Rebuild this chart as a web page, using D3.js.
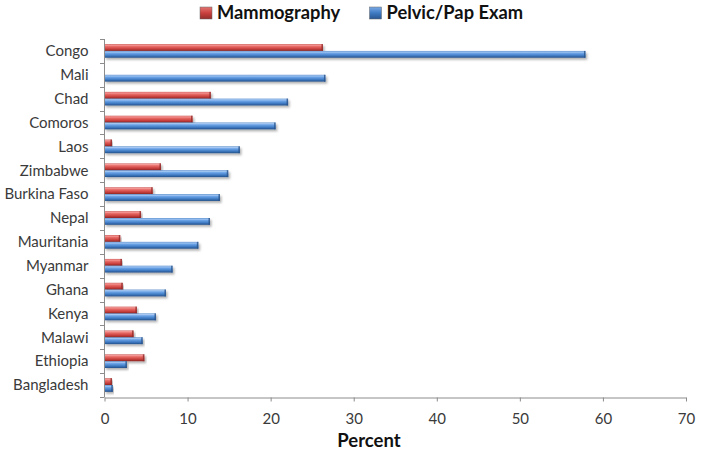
<!DOCTYPE html>
<html><head><meta charset="utf-8">
<script src="https://cdn.jsdelivr.net/npm/d3@7"></script>
<style>
body{margin:0;background:#fff;}
text{font-family:Lato,"Open Sans",sans-serif;}
</style></head>
<body><svg id="c" width="702" height="453"></svg>
<script>
const categories = ["Congo","Mali","Chad","Comoros","Laos","Zimbabwe","Burkina Faso","Nepal","Mauritania","Myanmar","Ghana","Kenya","Malawi","Ethiopia","Bangladesh"];
const seriesNames = ["Mammography","Pelvic/Pap Exam"];
const mammography = [26.3,0,12.8,10.6,0.9,6.8,5.8,4.4,1.9,2.1,2.2,3.9,3.5,4.8,0.9];
const pelvicPap   = [57.9,26.6,22.1,20.6,16.3,14.9,13.9,12.7,11.3,8.2,7.4,6.2,4.6,2.7,1.0];
const xTicks = [0,10,20,30,40,50,60,70];
const axisTitle = "Percent";

const svg = d3.select("#c");
const defs = svg.append("defs");
function grad(id, stops){
  const g = defs.append("linearGradient").attr("id",id).attr("x1",0).attr("y1",0).attr("x2",0).attr("y2",1);
  stops.forEach(s=>g.append("stop").attr("offset",s[0]).attr("stop-color",s[1]));
}
grad("gRed",[[0,"#c9504d"],[0.15,"#f59a97"],[0.35,"#e66a66"],[0.7,"#c9403d"],[1,"#8a2523"]]);
grad("gBlue",[[0,"#4d84c8"],[0.15,"#a6c8f2"],[0.35,"#6aa2e6"],[0.7,"#3f7ac2"],[1,"#24508a"]]);
grad("lRed",[[0,"#e37673"],[0.5,"#c9403d"],[1,"#922d2a"]]);
grad("lBlue",[[0,"#7aaae6"],[0.5,"#3f7ac2"],[1,"#2a5690"]]);
const f = defs.append("filter").attr("id","sh").attr("x","-5%").attr("y","-50%").attr("width","110%").attr("height","250%");
f.append("feDropShadow").attr("dx",1.5).attr("dy",2).attr("stdDeviation",1.3).attr("flood-color","#000").attr("flood-opacity",0.3);

const x = d3.scaleLinear().domain([0,70]).range([104.5,686]);
const y = d3.scaleBand().domain(categories).range([39,397]).padding(0);
const inner = d3.scaleBand().domain(seriesNames).range([y.bandwidth()/2-6.8, y.bandwidth()/2+6.8]);
const fills = {"Mammography":"url(#gRed)","Pelvic/Pap Exam":"url(#gBlue)"};
const caps = {"Mammography":"#8e2a28","Pelvic/Pap Exam":"#2a5288"};
const legendFill = {"Mammography":"url(#lRed)","Pelvic/Pap Exam":"url(#lBlue)"};

const rows = categories.map((c,i)=>({c, vals:[{s:seriesNames[0],v:mammography[i]},{s:seriesNames[1],v:pelvicPap[i]}]}));

// bars
const g = svg.append("g");
rows.forEach(r=>{
  r.vals.forEach(d=>{
    if(d.v<=0) return;
    const y0 = y(r.c)+inner(d.s), h = inner.bandwidth(), w = x(d.v)-x(0);
    const bg = g.append("g").attr("filter","url(#sh)");
    bg.append("rect").attr("x",x(0)).attr("y",y0).attr("width",w).attr("height",h).attr("fill",fills[d.s]);
    bg.append("rect").attr("x",x(d.v)-1.5).attr("y",y0).attr("width",1.5).attr("height",h).attr("fill",caps[d.s]).attr("opacity",0.8);
  });
});

// y axis
const axisColor = "#8c8c8c";
const textColor = "#3a3a3a";
svg.append("line").attr("x1",104.5).attr("x2",104.5).attr("y1",39).attr("y2",397).attr("stroke",axisColor);
const bounds = categories.map(c=>y(c)).concat([397]);
svg.selectAll(".yt").data(bounds).enter().append("line")
  .attr("x1",100).attr("x2",104.5).attr("y1",d=>Math.round(d)+0.5).attr("y2",d=>Math.round(d)+0.5).attr("stroke",axisColor);
svg.selectAll(".yl").data(categories).enter().append("text")
  .attr("x",88.5).attr("y",d=>y(d)+y.bandwidth()/2).attr("dy","0.35em").attr("text-anchor","end")
  .attr("font-size",15).attr("fill",textColor).text(d=>d);

// x axis
const xa = svg.append("g").attr("transform","translate(0,397.5)")
  .call(d3.axisBottom(x).tickValues(xTicks).tickSize(4).tickSizeOuter(0).tickPadding(12));
xa.select(".domain").attr("stroke",axisColor);
xa.selectAll(".tick line").attr("stroke",axisColor);
xa.selectAll(".tick text").attr("font-size",15).attr("fill",textColor).attr("font-family","Lato,'Open Sans',sans-serif");

svg.append("text").attr("x",369).attr("y",447).attr("text-anchor","middle").attr("font-size",18.5).attr("font-weight","bold").attr("fill","#111").text(axisTitle);

// legend
const leg = [{s:seriesNames[0],x:200},{s:seriesNames[1],x:369.5}];
leg.forEach(l=>{
  svg.append("rect").attr("x",l.x).attr("y",7).attr("width",12).attr("height",12).attr("fill",legendFill[l.s]).attr("stroke","#666").attr("stroke-width",0.5);
  svg.append("text").attr("x",l.x+17).attr("y",18.5).attr("font-size",18.3).attr("font-weight","bold").attr("fill","#111").text(l.s);
});
</script></body></html>
